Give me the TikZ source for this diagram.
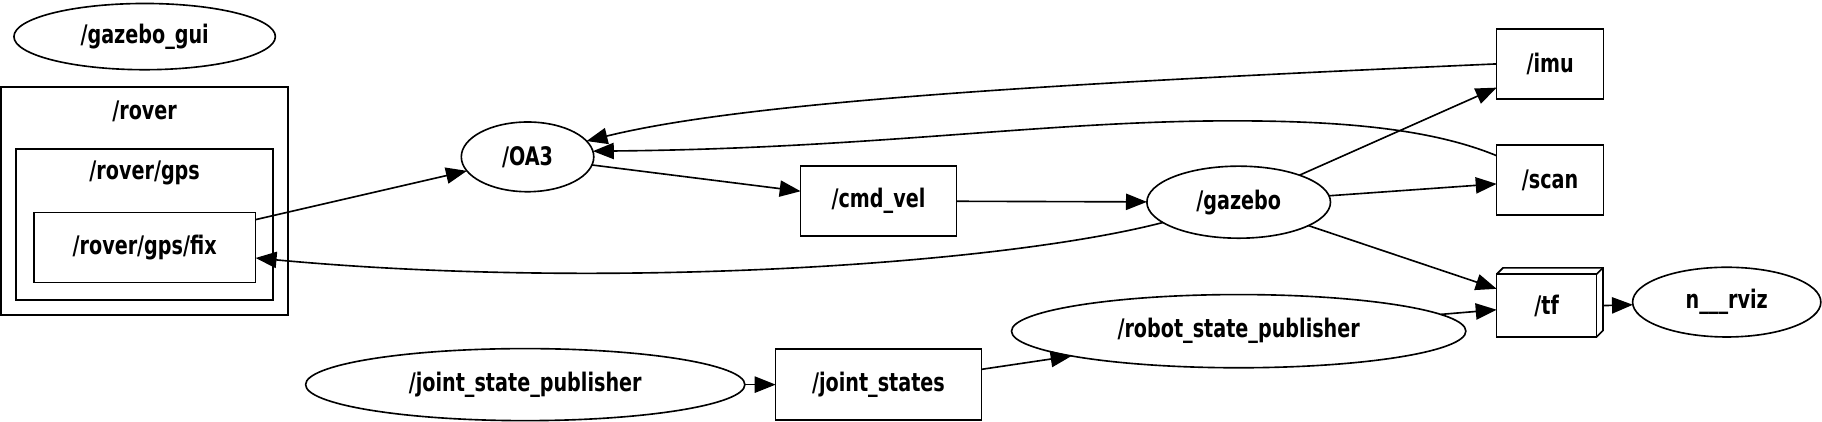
\documentclass[tikz,border=0pt]{standalone}
\usepackage{fontspec}
\setmainfont{DejaVu Sans}[FakeStretch=0.75]
\usetikzlibrary{arrows.meta,shapes.geometric}
\begin{document}
\begin{tikzpicture}[x=0.5pt,y=-0.5pt,
  font=\fontsize{11}{13}\selectfont\bfseries,
  every node/.style={inner sep=0pt,outer sep=0pt,line width=0.7pt},
  ell/.style={draw,ellipse},
  topic/.style={draw,rectangle},
  lbl/.style={},
  edge/.style={line width=0.7pt,-{Triangle[length=9pt,width=7pt]}},
  clusterbox/.style={draw,line width=0.7pt}]
\fill[white] (0,0) rectangle (1568,363);
\useasboundingbox (0,0) rectangle (1568,363);

% clusters
\draw[clusterbox] (1,75) rectangle (248,271);
\node[lbl] (roverlbl) at (124.5,96) {/rover};
\draw[clusterbox] (14,128) rectangle (235,258);
\node[lbl] (gpslbl) at (124.5,149) {/rover/gps};

% nodes
\node[ell,minimum width=112.5pt,minimum height=28.5pt] (gui) at (124.5,31.5) {/gazebo\_gui};
\node[topic,minimum width=95.5pt,minimum height=30pt] (fix) at (124.5,213) {/rover/gps/fix};
\node[ell,minimum width=57pt,minimum height=30pt] (oa3) at (454,135) {/OA3};
\node[topic,minimum width=67pt,minimum height=30pt] (cmd) at (756,173) {/cmd\_vel};
\node[ell,minimum width=79pt,minimum height=31pt] (gazebo) at (1066,174) {/gazebo};
\node[topic,minimum width=46pt,minimum height=30pt] (imu) at (1334,55) {/imu};
\node[topic,minimum width=46pt,minimum height=30pt] (scan) at (1334,155) {/scan};
\node[topic,minimum width=43pt,minimum height=27pt] (tf) at (1331,263) {/tf};
\draw[line width=0.7pt] (tf.north west) -- ++(2.75pt,2.75pt) -| ([shift={(2.75pt,2.75pt)}]tf.south east) -- (tf.south east);
\draw[line width=0.7pt] (tf.north east) -- ++(2.75pt,2.75pt);
\node[ell,minimum width=81pt,minimum height=30pt] (rviz) at (1486,260) {n\_\_\_rviz};
\node[ell,minimum width=195.5pt,minimum height=31.5pt] (rsp) at (1066,285) {/robot\_state\_publisher};
\node[ell,minimum width=189pt,minimum height=31pt] (jsp) at (452,331) {/joint\_state\_publisher};
\node[topic,minimum width=88.5pt,minimum height=30.5pt] (js) at (756,331) {/joint\_states};

% edges
\draw[edge] ([yshift=-3pt]fix.north east) -- (oa3);
\draw[edge] (oa3) -- (cmd);
\draw[edge] (cmd) -- (gazebo);
\draw[edge] (gazebo) -- (imu);
\draw[edge] (gazebo) -- (scan);
\draw[edge] (gazebo) -- (tf);
\draw[edge] (imu.west) .. controls (900,72) and (640,88) .. (oa3.15);
\draw[edge] ([yshift=-4.5pt]scan.north west) .. controls (1230,110) and (1150,104) .. (1060,104) .. controls (900,104) and (750,128) .. (oa3.5);
\draw[edge] (gazebo.195) .. controls (860,228) and (520,250) .. ([yshift=-4.5pt]fix.east);
\draw[edge] (rsp) -- (tf);
\draw[edge] ([xshift=2.75pt]tf.east) -- (rviz);
\draw[edge] (jsp) -- (js);
\draw[edge] (js) -- (rsp);
\end{tikzpicture}
\end{document}
